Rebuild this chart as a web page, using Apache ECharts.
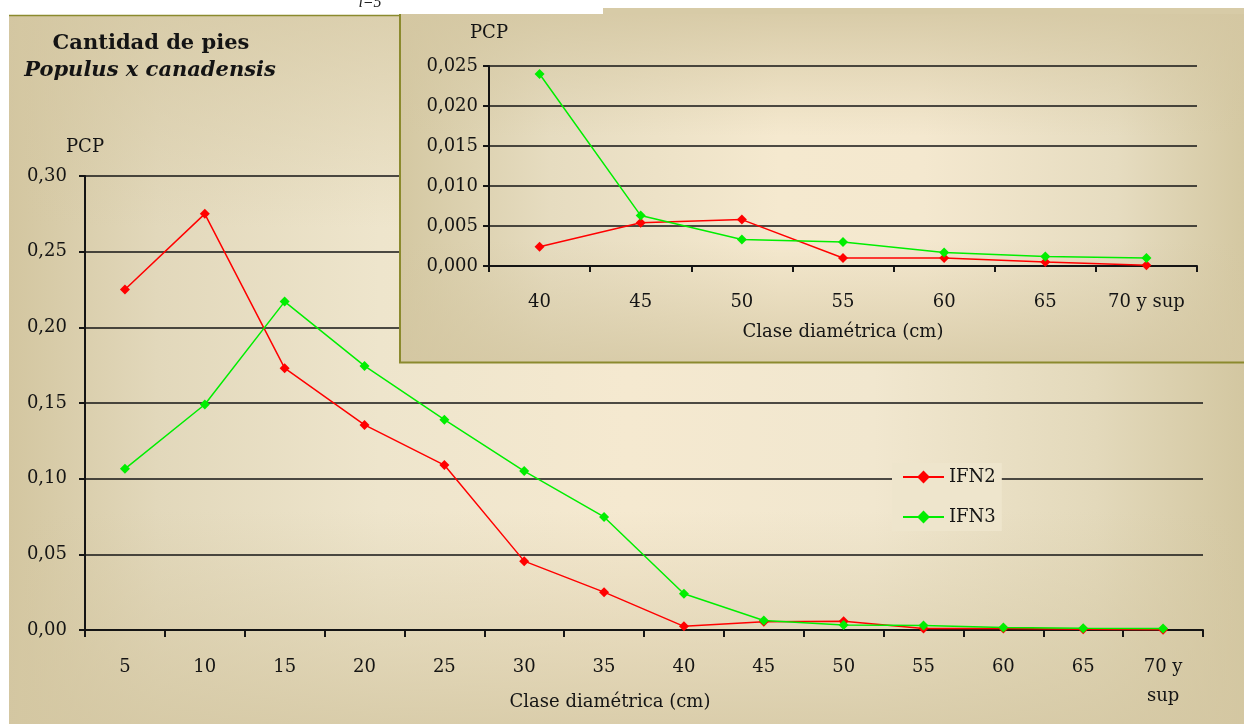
<!DOCTYPE html>
<html>
<head>
<meta charset="utf-8">
<title>Cantidad de pies - Populus x canadensis</title>
<script src="https://cdn.jsdelivr.net/npm/echarts@6/dist/echarts.min.js"></script>
<style>
  html, body { margin: 0; padding: 0; background: #ffffff; }
  #chart { width: 1244px; height: 724px; }
</style>
</head>
<body>
<div id="chart"></div>
<script>
// Diameter classes (cm)
const categories = ['5', '10', '15', '20', '25', '30', '35', '40', '45', '50', '55', '60', '65', '70 y sup'];
// Proportion of trees per class (PCP), IFN2 and IFN3 inventories
const ifn2 = [0.225, 0.275, 0.173, 0.1355, 0.109, 0.0455, 0.025, 0.0024, 0.0054, 0.0058, 0.0010, 0.0010, 0.0005, 0.0001];
const ifn3 = [0.1065, 0.149, 0.217, 0.1745, 0.139, 0.105, 0.0747, 0.024, 0.0063, 0.0033, 0.0030, 0.0017, 0.0012, 0.0010];
// The detail panel shows the large classes only (40 cm onwards)
const detailStart = 7;
const detailCategories = categories.slice(detailStart);
const detailIfn2 = ifn2.slice(detailStart);
const detailIfn3 = ifn3.slice(detailStart);

const FONT = 'DejaVu Serif';
const FS = 18;
const INK = '#141414';
const OLIVE = '#8b8a2e';
const RED = '#ff0000';
const GREEN = '#00ee00';

const comma = (v, d) => v.toFixed(d).replace('.', ',');

const tan = a => 'rgba(212,199,162,' + a + ')';
function hGrad(stops) {
  return { type: 'linear', x: 0, y: 0, x2: 1, y2: 0, colorStops: stops.map(s => ({ offset: s[0], color: s[1] })) };
}
function vGrad(stops) {
  return { type: 'linear', x: 0, y: 0, x2: 0, y2: 1, colorStops: stops.map(s => ({ offset: s[0], color: s[1] })) };
}

function axisCommon(z) {
  return {
    z: z,
    axisLine: { show: true, lineStyle: { color: INK, width: 2 } },
    axisTick: { show: true, inside: false, length: 6, lineStyle: { color: INK, width: 2 } },
    axisLabel: { color: INK, fontFamily: FONT, fontSize: FS },
    nameTextStyle: { color: INK, fontFamily: FONT, fontSize: FS }
  };
}

function lineSeries(name, data, color, xi, yi, z) {
  return {
    name: name, type: 'line', data: data,
    xAxisIndex: xi, yAxisIndex: yi, z: z,
    symbol: 'diamond', symbolSize: 10,
    itemStyle: { color: color },
    lineStyle: { color: color, width: 1.5 },
    emphasis: { disabled: true },
    animation: false
  };
}

const chart = echarts.init(document.getElementById('chart'), null, { renderer: 'canvas' });

const mainX = Object.assign(axisCommon(-20), {
  type: 'category', gridIndex: 0, data: categories, boundaryGap: true,
  name: 'Clase diamétrica (cm)', nameLocation: 'middle', nameGap: 63, nameMoveOverlap: false,
  axisTick: { show: true, inside: false, length: 7, alignWithLabel: false, lineStyle: { color: INK, width: 2 } },
  axisLabel: {
    color: INK, fontFamily: FONT, fontSize: FS, margin: 23, lineHeight: 29,
    interval: 0, formatter: v => v.replace(' sup', '\nsup')
  },
  nameTextStyle: { color: INK, fontFamily: FONT, fontSize: FS, padding: [0, 68, 0, 0] }
});
const mainY = Object.assign(axisCommon(-20), {
  type: 'value', gridIndex: 0, min: 0, max: 0.3, interval: 0.05,
  name: 'PCP', nameLocation: 'end', nameGap: 20,
  axisLabel: { color: INK, fontFamily: FONT, fontSize: FS, margin: 18, formatter: v => comma(v, 2) },
  splitLine: { show: true, lineStyle: { color: INK, width: 1.6 } }
});
const detailX = Object.assign(axisCommon(-5), {
  type: 'category', gridIndex: 1, data: detailCategories, boundaryGap: true,
  name: 'Clase diamétrica (cm)', nameLocation: 'middle', nameGap: 57, nameMoveOverlap: false,
  axisLabel: { color: INK, fontFamily: FONT, fontSize: FS, margin: 27, interval: 0 }
});
const detailY = Object.assign(axisCommon(-5), {
  type: 'value', gridIndex: 1, min: 0, max: 0.025, interval: 0.005,
  name: 'PCP', nameLocation: 'end', nameGap: 24,
  axisLabel: { color: INK, fontFamily: FONT, fontSize: FS, margin: 11, formatter: v => comma(v, 3) },
  splitLine: { show: true, lineStyle: { color: INK, width: 1.6 } }
});

const option = {
  animation: false,
  backgroundColor: '#ffffff',
  grid: [
    { left: 85, right: 41, top: 176, bottom: 94, containLabel: false, outerBoundsMode: 'none' },
    { left: 489, right: 47, top: 66, bottom: 458, containLabel: false, outerBoundsMode: 'none' }
  ],
  xAxis: [mainX, detailX],
  yAxis: [mainY, detailY],
  legend: {
    data: ['IFN2', 'IFN3'],
    orient: 'vertical',
    left: 892, top: 463,
    padding: [5, 6, 5, 10],
    itemGap: 22, itemWidth: 41, itemHeight: 16,
    backgroundColor: '#eee5cc',
    textStyle: { color: INK, fontFamily: FONT, fontSize: FS },
    selectedMode: false,
    z: 4
  },
  graphic: [
    // main panel background
    { type: 'rect', z: -30, silent: true, shape: { x: 9, y: 15, width: 1235, height: 709 },
      style: { fill: hGrad([[0, '#d3c6a0'], [0.12, '#e2d8bb'], [0.3, '#eee5cc'], [0.5, '#f5e9d0'], [0.7, '#f1e7cf'], [0.88, '#e3d9bb'], [1, '#d3c7a1']]) } },
    { type: 'rect', z: -29, silent: true, shape: { x: 9, y: 15, width: 1235, height: 709 },
      style: { fill: vGrad([[0, tan(0.7)], [0.3, tan(0)], [0.7, tan(0)], [1, tan(0.8)]]) } },
    { type: 'line', z: -28, silent: true, shape: { x1: 9, y1: 15.5, x2: 399, y2: 15.5 },
      style: { stroke: OLIVE, lineWidth: 1.5 } },
    // detail panel background
    { type: 'rect', z: -10, silent: true, shape: { x: 603, y: 8, width: 641, height: 8 },
      style: { fill: '#d7cba7' } },
    { type: 'rect', z: -10, silent: true, shape: { x: 399, y: 14, width: 845, height: 349 },
      style: { fill: hGrad([[0, '#d4c8a2'], [0.18, '#e6dcc0'], [0.45, '#f5e9cf'], [0.62, '#f4e8cf'], [0.85, '#e6dcc0'], [1, '#d4c8a2']]) } },
    { type: 'rect', z: -9, silent: true, shape: { x: 399, y: 14, width: 845, height: 349 },
      style: { fill: vGrad([[0, tan(0.85)], [0.35, tan(0)], [0.65, tan(0)], [1, tan(0.8)]]) } },
    { type: 'line', z: -8, silent: true, shape: { x1: 400, y1: 14, x2: 400, y2: 363 },
      style: { stroke: OLIVE, lineWidth: 2 } },
    { type: 'line', z: -8, silent: true, shape: { x1: 399, y1: 362.5, x2: 1244, y2: 362.5 },
      style: { stroke: OLIVE, lineWidth: 2 } },
    // titles
    { type: 'text', z: 5, silent: true, x: 151, y: 44,
      style: { text: 'Cantidad de pies', fill: INK, font: 'bold 21px "DejaVu Serif"', textAlign: 'center', textVerticalAlign: 'middle' } },
    { type: 'text', z: 5, silent: true, x: 150, y: 71,
      style: { text: 'Populus x canadensis', fill: INK, font: 'italic bold 21px "DejaVu Serif"', textAlign: 'center', textVerticalAlign: 'middle' } },
    { type: 'text', z: 5, silent: true, x: 370, y: 11,
      style: { text: 'i=5', fill: '#222', font: 'italic 16px "Liberation Serif"', textAlign: 'center', textVerticalAlign: 'bottom' } }
  ],
  series: [
    lineSeries('IFN2', ifn2, RED, 0, 0, -15),
    lineSeries('IFN3', ifn3, GREEN, 0, 0, -15),
    lineSeries('IFN2', detailIfn2, RED, 1, 1, -2),
    lineSeries('IFN3', detailIfn3, GREEN, 1, 1, -2)
  ]
};

chart.setOption(option);
</script>
</body>
</html>
